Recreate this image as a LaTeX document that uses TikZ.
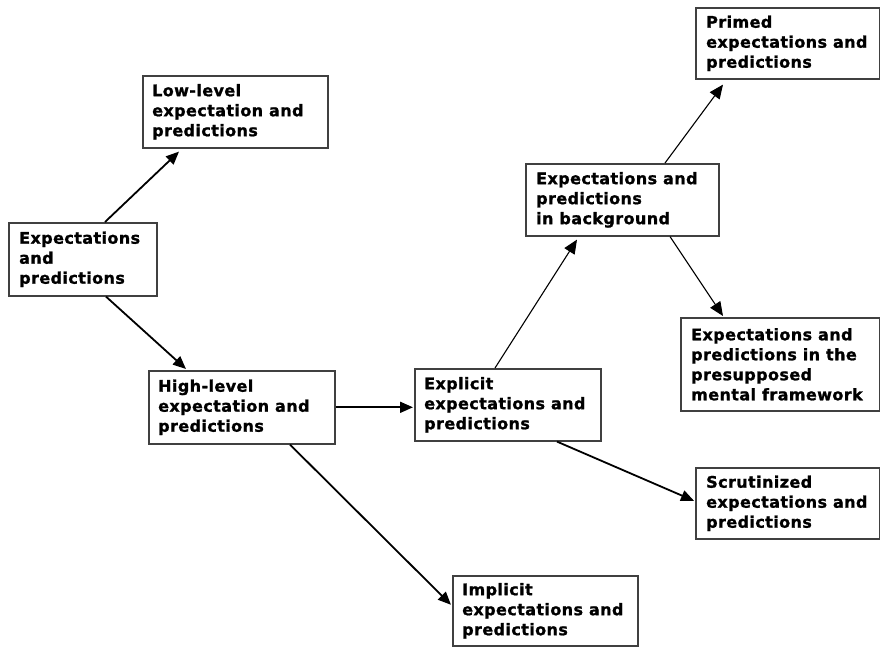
\documentclass[tikz,border=0pt]{standalone}
\usepackage{fontspec}
\newfontfamily\boxfont{DejaVu Sans}[LetterSpace=2.5,FakeBold=1.2]
\usetikzlibrary{arrows.meta,calc}
\begin{document}
\begin{tikzpicture}[x=1pt,y=-1pt,
  box/.style={draw=black!75, line width=1.6pt, fill=white, anchor=north west, inner sep=0pt},
  lbl/.style={anchor=west, align=left, inner sep=0pt, font=\boxfont\bfseries\fontsize{16}{20}\selectfont},
  thickarrow/.style={line width=1.8pt, -{Triangle[length=13pt,width=11pt]}},
  thinarrow/.style={line width=1.1pt, -{Triangle[length=14pt,width=12pt]}}]
\useasboundingbox (0,0) rectangle (880,646);
\fill[white] (0,0) rectangle (880,646);
% boxes
\node[box, minimum width=148pt, minimum height=73pt] (A) at (8,222) {};
\node[box, minimum width=185pt, minimum height=72pt] (low) at (142,75) {};
\node[box, minimum width=186pt, minimum height=73pt] (high) at (148,370) {};
\node[box, minimum width=186pt, minimum height=72pt] (expl) at (414,368) {};
\node[box, minimum width=193pt, minimum height=72pt] (bg) at (525,163) {};
\node[box, minimum width=184pt, minimum height=71pt] (primed) at (695,7) {};
\node[box, minimum width=199pt, minimum height=93pt] (pres) at (680,317) {};
\node[box, minimum width=184pt, minimum height=71pt] (scrut) at (695,467) {};
\node[box, minimum width=185pt, minimum height=70pt] (impl) at (452,575) {};
% labels
\node[lbl] (At) at ($(A.west)+(11,0)$) {Expectations\\and\\predictions};
\node[lbl] (lowt) at ($(low.west)+(10,0)$) {Low-level\\expectation and\\predictions};
\node[lbl] (hight) at ($(high.west)+(10,0)$) {High-level\\expectation and\\predictions};
\node[lbl] (explt) at ($(expl.west)+(10,0)$) {Explicit\\expectations and\\predictions};
\node[lbl] (bgt) at ($(bg.west)+(11,0)$) {Expectations and\\predictions\\in background};
\node[lbl] (primedt) at ($(primed.west)+(11,0)$) {Primed\\expectations and\\predictions};
\node[lbl] (prest) at ($(pres.west)+(11,0)$) {Expectations and\\predictions in the\\presupposed\\mental framework};
\node[lbl] (scrutt) at ($(scrut.west)+(11,0)$) {Scrutinized\\expectations and\\predictions};
\node[lbl] (implt) at ($(impl.west)+(10,0)$) {Implicit\\expectations and\\predictions};
% connectors
\draw[thickarrow] ($(A.north west)+(97,0)$) -- ($(low.south west)+(37,3)$);
\draw[thickarrow] ($(A.south west)+(98,0)$) -- ($(high.north west)+(38,-1)$);
\draw[thickarrow] (high.east) -- ($(high.east -| expl.west)+(-1,0)$);
\draw[thickarrow] ($(high.south west)+(142,0)$) -- ($(impl.west)+(-1,-6)$);
\draw[thinarrow] ($(expl.north west)+(81,0)$) -- ($(bg.south west)+(52,3)$);
\draw[thickarrow] ($(expl.south west)+(143,0)$) -- ($(scrut.west)+(-1,-2.5)$);
\draw[thinarrow] ($(bg.north west)+(140,0)$) -- ($(primed.south west)+(28,5)$);
\draw[thinarrow] ($(bg.south west)+(145,0)$) -- ($(pres.north west)+(43,-1)$);
\end{tikzpicture}
\end{document}
